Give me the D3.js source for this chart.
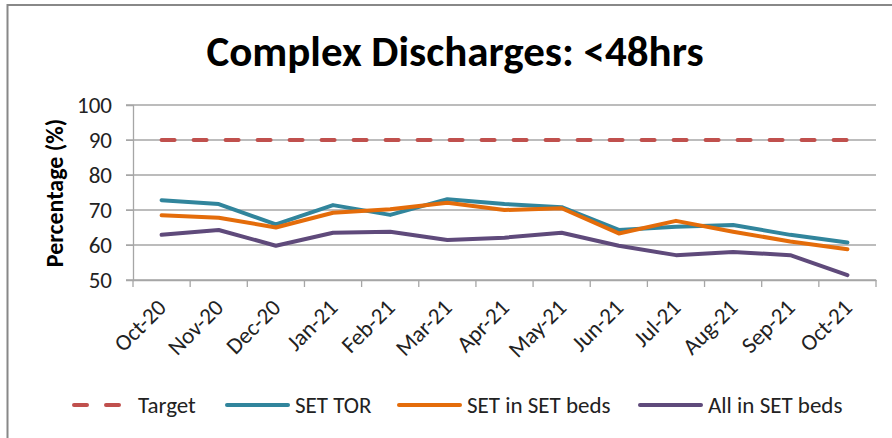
<!DOCTYPE html>
<html>
<head>
<meta charset="utf-8">
<script src="https://cdn.jsdelivr.net/npm/d3@7"></script>
<style>
  body { margin: 0; background: #fff; }
  text { font-family: Carlito, Calibri, Lato, sans-serif; }
</style>
</head>
<body>
<script>
// données
const months = ["Oct-20", "Nov-20", "Dec-20", "Jan-21", "Feb-21", "Mar-21", "Apr-21",
                "May-21", "Jun-21", "Jul-21", "Aug-21", "Sep-21", "Oct-21"]
const target = [90, 90, 90, 90, 90, 90, 90, 90, 90, 90, 90, 90, 90]
const setTor = [72.8, 71.7, 65.9, 71.4, 68.6, 73.1, 71.7, 70.8, 64.3, 65.2, 65.7, 62.9, 60.7]
const setInSetBeds = [68.5, 67.8, 65.0, 69.2, 70.2, 72.1, 70.0, 70.5, 63.3, 66.9, 63.8, 61.0, 58.8]
const allInSetBeds = [62.9, 64.3, 59.8, 63.5, 63.8, 61.4, 62.1, 63.5, 59.8, 57.1, 58.0, 57.1, 51.4]
const yTicks = [50, 60, 70, 80, 90, 100]

const series = [
    { name: "Target", values: target, color: "#C0504D", dash: "13 19" },
    { name: "SET TOR", values: setTor, color: "#31859C" },
    { name: "SET in SET beds", values: setInSetBeds, color: "#E46C0A" },
    { name: "All in SET beds", values: allInSetBeds, color: "#5F4A7B" }
]

const width = 892, height = 438

const svg = d3.select("body")
    .append("svg")
    .attr("width", width)
    .attr("height", height)

// cadre du graphique
svg.append("rect")
    .attr("x", 7.5)
    .attr("y", 5)
    .attr("width", 900)
    .attr("height", 450)
    .attr("fill", "none")
    .attr("stroke", "#888")
    .attr("stroke-width", 2)

// titre
svg.append("text")
    .attr("x", 455)
    .attr("y", 66)
    .attr("text-anchor", "middle")
    .style("font-size", "43px")
    .style("font-weight", "bold")
    .text("Complex Discharges: <48hrs")

// échelles
const x = d3.scaleBand().domain(months).range([133, 876])
const y = d3.scaleLinear().domain([50, 100]).range([280, 105])

// grille horizontale
svg.append("g")
    .selectAll("line")
    .data(yTicks)
    .enter()
    .append("line")
    .attr("x1", 126)
    .attr("x2", 876)
    .attr("y1", d => y(d))
    .attr("y2", d => y(d))
    .attr("stroke", "#a6a6a6")
    .attr("stroke-width", 1.3)

// axe Y
const yAxis = svg.append("g")
    .attr("transform", "translate(133,0)")
    .call(d3.axisLeft(y).tickValues(yTicks).tickSize(7).tickPadding(14))
yAxis.select(".domain").attr("stroke", "#a6a6a6").attr("stroke-width", 1.3)
yAxis.selectAll(".tick line").attr("stroke", "#a6a6a6")
yAxis.selectAll("text")
    .style("font-size", "23px")
    .style("font-family", "Carlito, Calibri, Lato, sans-serif")
    .attr("fill", "#222")

svg.append("text")
    .attr("transform", "translate(63,193) rotate(-90)")
    .attr("text-anchor", "middle")
    .style("font-size", "24px")
    .style("font-weight", "bold")
    .text("Percentage (%)")

// axe X
const xAxis = svg.append("g")
    .attr("transform", "translate(0,280)")
    .call(d3.axisBottom(x).tickSize(0).tickFormat(""))
xAxis.select(".domain").attr("stroke", "#a6a6a6").attr("stroke-width", 1.3)

svg.append("g")
    .selectAll("line")
    .data(months.concat(["end"]))
    .enter()
    .append("line")
    .attr("x1", (d, i) => i < months.length ? x(d) : x.range()[1])
    .attr("x2", (d, i) => i < months.length ? x(d) : x.range()[1])
    .attr("y1", 280)
    .attr("y2", 287)
    .attr("stroke", "#a6a6a6")
    .attr("stroke-width", 1.3)

svg.append("g")
    .selectAll("text")
    .data(months)
    .enter()
    .append("text")
    .attr("transform", d => "translate(" + (x(d) + x.bandwidth() / 2 + 6) + ",309) rotate(-45)")
    .attr("text-anchor", "end")
    .style("font-size", "23px")
    .attr("fill", "#222")
    .text(d => d)

// courbes
const line = d3.line()
    .x((d, i) => x(months[i]) + x.bandwidth() / 2)
    .y(d => y(d))

svg.append("g")
    .selectAll("path")
    .data(series)
    .enter()
    .append("path")
    .attr("d", d => line(d.values))
    .attr("fill", "none")
    .attr("stroke", d => d.color)
    .attr("stroke-width", 4)
    .attr("stroke-linecap", "round")
    .attr("stroke-linejoin", "round")
    .attr("stroke-dasharray", d => d.dash || null)

// légende
const legendX = [72, 225, 397, 638]
const legend = svg.append("g")
    .selectAll("g")
    .data(series)
    .enter()
    .append("g")
    .attr("transform", (d, i) => "translate(" + legendX[i] + ",405)")

legend.append("line")
    .attr("x1", 2)
    .attr("x2", (d, i) => i === 0 ? 51 : 63)
    .attr("stroke", d => d.color)
    .attr("stroke-width", 4)
    .attr("stroke-linecap", "round")
    .attr("stroke-dasharray", d => d.dash ? "13 19" : null)

legend.append("text")
    .attr("x", (d, i) => i === 0 ? 66 : 70)
    .attr("y", 8)
    .style("font-size", "23px")
    .attr("fill", "#222")
    .text(d => d.name)
</script>
</body>
</html>
